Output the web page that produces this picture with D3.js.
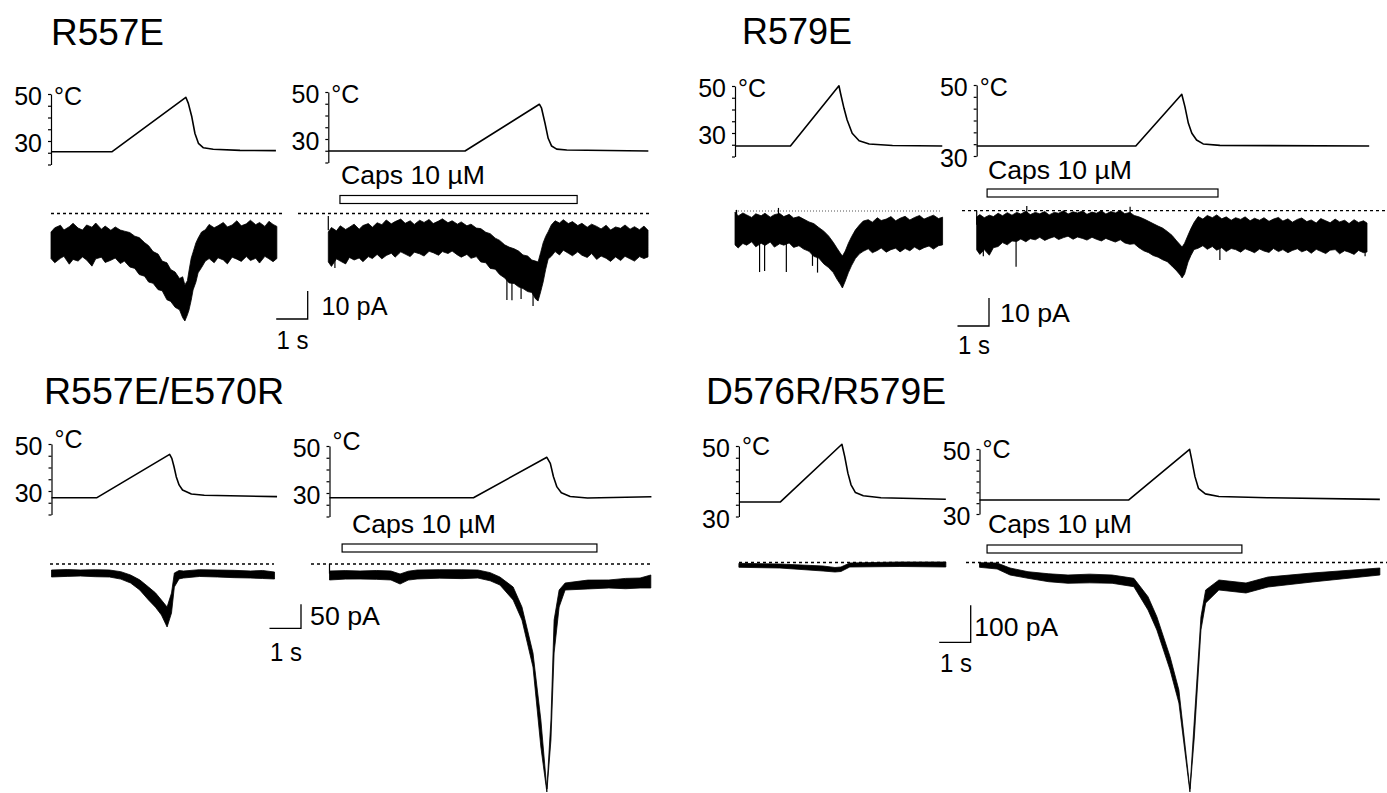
<!DOCTYPE html>
<html>
<head>
<meta charset="utf-8">
<script src="https://cdn.jsdelivr.net/npm/d3@7"></script>
<style>
  body { margin: 0; background: #fff; }
  text { font-family: "Liberation Sans", Arial, Helvetica, sans-serif; fill: #000; }
</style>
</head>
<body>
<div id="chart"></div>
<script>
const svgWidth = 1387;
const svgHeight = 793;

// labels
const titles = ["R557E", "R579E", "R557E/E570R", "D576R/R579E"];
const capsLabel = "Caps 10 µM";
const tempTickLabels = [50, 30];
const scaleBarPA = [10, 10, 50, 100];
const scaleBarSec = 1;
// capsaicin application, seconds from start of 2nd sweep
const capsOn = [[0.37, 7.9], [0.33, 7.66], [0.4, 8.49], [0.24, 8.33]];

// temperature traces [s, °C]
const tempA1 = [[0,25.4],[1.93,25.4],[4.28,48.6],[4.36,46.0],[4.47,40.3],[4.57,33.2],[4.68,29.0],[4.84,27.1],[5.15,26.5],[6.0,26.0],[7.14,25.9]];
const tempA2 = [[0,24.9],[4.34,24.9],[6.7,44.8],[6.77,43.1],[6.88,36.7],[6.98,30.3],[7.09,27.0],[7.25,25.7],[7.57,25.3],[10.16,24.9]];
const tempB1 = [[0,24.5],[1.76,24.5],[3.3,50.1],[3.35,46.9],[3.46,40.5],[3.56,35.5],[3.72,29.9],[3.94,26.7],[4.26,25.3],[5.0,24.7],[6.58,24.5]];
const tempB2 = [[0,32.8],[5.05,32.8],[6.51,47.4],[6.61,43.9],[6.72,39.2],[6.83,36.4],[6.98,34.5],[7.19,33.4],[7.72,33.0],[12.46,32.8]];
const tempC1 = [[0,27.1],[1.43,27.1],[3.75,45.6],[3.82,43.9],[3.89,40.3],[3.96,36.1],[4.05,32.6],[4.16,30.4],[4.44,28.7],[4.85,28.2],[7.16,27.6]];
const tempC2 = [[0,28.0],[4.57,28.0],[6.9,45.2],[7.01,42.6],[7.11,36.9],[7.22,32.6],[7.36,30.1],[7.64,28.5],[8.19,27.9],[10.22,28.4]];
const tempD1 = [[0,34.1],[1.31,34.1],[3.27,50.5],[3.36,47.0],[3.46,42.3],[3.56,39.0],[3.7,36.8],[3.95,35.9],[4.51,35.3],[6.57,34.9]];
const tempD2 = [[0,34.3],[4.73,34.3],[6.67,49.9],[6.74,46.6],[6.84,41.5],[6.95,37.9],[7.17,36.2],[7.6,35.4],[9.14,35.0],[12.71,34.5]];

// current traces, noise envelope [s, upper pA, lower pA]
const currA1 = [[0,-6.6,-16.1],[0.12,-5.1,-17.6],[0.3,-4.2,-16.0],[0.41,-5.9,-15.3],[0.58,-4.7,-18.1],[0.7,-3.5,-16.4],[0.86,-5.2,-17.0],[1.0,-5.9,-15.5],[1.13,-4.1,-16.6],[1.3,-4.9,-18.8],[1.42,-3.4,-16.2],[1.6,-5.6,-15.6],[1.72,-4.5,-17.5],[1.9,-6.0,-16.7],[2.04,-4.8,-15.9],[2.2,-5.9,-17.9],[2.33,-6.3,-17.0],[2.5,-6.8,-19.1],[2.66,-8.1,-19.6],[2.8,-8.6,-21.8],[2.97,-10.4,-22.4],[3.1,-11.5,-24.5],[3.24,-13.6,-24.9],[3.4,-14.5,-27.2],[3.53,-17.0,-27.6],[3.68,-17.6,-30.8],[3.8,-20.0,-31.4],[3.94,-20.9,-33.5],[4.08,-23.2,-34.4],[4.18,-22.6,-37.2],[4.25,-25.5,-38.4],[4.33,-24.0,-36.2],[4.38,-20.5,-34.5],[4.45,-16.0,-31.0],[4.51,-13.8,-27.3],[4.6,-10.5,-24.5],[4.67,-8.8,-21.2],[4.78,-6.6,-19.3],[4.9,-5.8,-17.0],[5.02,-3.9,-16.1],[5.18,-5.1,-17.6],[5.3,-4.4,-15.8],[5.47,-3.2,-16.6],[5.6,-4.8,-18.0],[5.75,-4.1,-15.6],[5.9,-2.6,-16.3],[6.04,-4.4,-17.1],[6.2,-3.7,-15.4],[6.33,-2.4,-16.8],[6.5,-4.0,-16.0],[6.62,-3.2,-17.7],[6.79,-4.6,-15.3],[6.92,-2.8,-16.2],[7.05,-3.9,-17.2],[7.17,-4.6,-16.1]];
const currA2 = [[0,-6.6,-17.3],[0.1,-5.0,-18.9],[0.26,-6.2,-16.2],[0.38,-4.4,-17.0],[0.55,-5.7,-18.0],[0.67,-4.9,-15.7],[0.82,-3.8,-16.6],[0.98,-5.6,-15.9],[1.1,-4.3,-17.2],[1.27,-3.6,-15.4],[1.4,-4.9,-16.1],[1.55,-3.3,-14.6],[1.7,-4.0,-16.2],[1.84,-2.3,-15.0],[2.0,-3.7,-14.2],[2.12,-2.9,-15.6],[2.3,-2.0,-13.7],[2.44,-3.5,-14.5],[2.6,-2.6,-15.4],[2.73,-3.9,-13.8],[2.9,-2.4,-14.4],[3.04,-3.2,-15.2],[3.2,-2.1,-13.5],[3.33,-3.6,-14.0],[3.5,-2.7,-14.9],[3.62,-1.9,-13.6],[3.8,-3.3,-14.3],[3.93,-2.6,-13.4],[4.1,-3.8,-14.8],[4.22,-3.0,-15.6],[4.4,-4.4,-14.6],[4.53,-3.8,-16.0],[4.7,-5.2,-15.4],[4.84,-5.4,-17.3],[5.0,-6.7,-17.6],[5.14,-7.2,-19.6],[5.3,-8.8,-19.9],[5.44,-9.6,-21.8],[5.6,-11.2,-23.0],[5.74,-12.0,-24.8],[5.9,-12.6,-25.0],[6.04,-13.4,-26.2],[6.18,-14.8,-26.8],[6.33,-15.2,-27.9],[6.46,-16.6,-28.2],[6.58,-17.0,-30.5],[6.66,-17.3,-31.25],[6.74,-14.0,-28.0],[6.82,-10.5,-24.5],[6.9,-8.2,-20.0],[6.98,-6.5,-16.25],[7.08,-4.1,-15.3],[7.2,-2.6,-13.6],[7.34,-3.4,-14.8],[7.46,-2.2,-13.1],[7.62,-3.6,-14.2],[7.75,-2.9,-15.1],[7.92,-4.3,-13.7],[8.05,-3.5,-14.9],[8.22,-4.9,-15.7],[8.36,-3.8,-14.3],[8.52,-4.6,-16.4],[8.66,-5.5,-15.2],[8.82,-4.2,-16.0],[8.96,-5.9,-17.1],[9.12,-4.8,-15.5],[9.28,-5.3,-16.8],[9.42,-4.1,-15.3],[9.58,-5.6,-16.2],[9.72,-4.7,-17.0],[9.88,-5.8,-15.4],[10.02,-4.5,-16.1],[10.15,-6.0,-15.5]];
const currB1 = [[0,-0.36,-12.1],[0.1,-1.8,-13.2],[0.25,-0.7,-11.6],[0.37,-1.4,-12.2],[0.53,-2.3,-11.0],[0.66,-1.0,-12.8],[0.83,-1.7,-11.5],[0.95,-0.8,-12.3],[1.12,-2.2,-11.1],[1.25,-1.3,-12.9],[1.42,-0.9,-11.7],[1.55,-2.0,-12.2],[1.72,-1.2,-11.4],[1.86,-2.5,-13.0],[2.03,-2.0,-12.4],[2.18,-2.9,-13.6],[2.35,-3.9,-14.4],[2.5,-4.5,-16.2],[2.66,-5.9,-16.8],[2.82,-7.2,-18.9],[2.97,-8.9,-20.2],[3.12,-11.2,-22.0],[3.24,-13.3,-24.4],[3.34,-15.0,-26.1],[3.41,-16.1,-27.5],[3.5,-14.3,-25.0],[3.6,-11.5,-22.0],[3.7,-9.2,-19.5],[3.82,-6.8,-17.0],[3.95,-5.0,-15.3],[4.07,-3.6,-14.4],[4.23,-3.1,-13.5],[4.36,-4.0,-14.9],[4.52,-2.4,-14.1],[4.64,-3.4,-13.2],[4.8,-2.9,-14.7],[4.95,-2.0,-13.8],[5.1,-3.5,-13.3],[5.24,-2.6,-14.6],[5.4,-1.9,-13.4],[5.55,-3.2,-14.2],[5.7,-2.3,-12.9],[5.86,-1.6,-13.9],[6.0,-2.9,-13.1],[6.16,-2.1,-12.5],[6.3,-1.5,-13.6],[6.46,-2.7,-12.4],[6.59,-2.2,-12.1]];
const currB2 = [[0,-2.25,-14.0],[0.1,-1.4,-15.6],[0.24,-2.5,-13.9],[0.4,-1.6,-15.9],[0.53,-2.1,-13.2],[0.68,-0.9,-12.8],[0.82,-1.8,-11.4],[0.97,-0.7,-12.2],[1.12,-1.6,-10.8],[1.27,-0.6,-11.0],[1.4,-1.2,-10.1],[1.56,-0.2,-11.1],[1.7,-1.4,-10.0],[1.86,-0.6,-10.4],[2.0,-1.1,-9.5],[2.16,-0.3,-10.6],[2.3,-1.5,-9.9],[2.46,-0.6,-9.3],[2.6,-0.9,-10.3],[2.76,0.0,-9.6],[2.9,-1.2,-9.1],[3.06,-0.4,-10.2],[3.2,-0.8,-9.4],[3.36,-0.1,-9.9],[3.5,-1.3,-10.5],[3.66,-0.5,-9.5],[3.8,-0.9,-10.2],[3.96,0.0,-10.8],[4.1,-1.2,-9.9],[4.26,-0.3,-10.6],[4.4,-0.8,-11.2],[4.56,0.1,-10.4],[4.7,-1.1,-11.5],[4.86,-0.6,-12.0],[5.0,-1.7,-11.8],[5.15,-2.2,-13.2],[5.3,-2.9,-14.3],[5.46,-3.8,-15.0],[5.6,-4.6,-16.0],[5.76,-5.5,-16.6],[5.9,-6.2,-17.5],[6.05,-7.4,-18.2],[6.2,-8.8,-19.8],[6.35,-10.8,-21.5],[6.46,-12.2,-23.0],[6.52,-13.0,-24.0],[6.6,-11.6,-22.6],[6.71,-8.7,-18.3],[6.8,-6.4,-16.0],[6.9,-4.2,-13.9],[7.03,-2.1,-13.4],[7.18,-3.0,-12.5],[7.32,-1.7,-13.8],[7.48,-2.5,-12.8],[7.62,-1.5,-14.1],[7.78,-2.9,-13.2],[7.92,-2.2,-14.6],[8.08,-3.4,-13.5],[8.22,-2.5,-13.9],[8.38,-3.1,-14.8],[8.52,-2.2,-13.6],[8.68,-3.6,-14.3],[8.82,-2.7,-15.0],[8.98,-3.4,-13.7],[9.12,-2.5,-14.4],[9.28,-3.8,-14.9],[9.42,-3.0,-13.5],[9.58,-2.4,-14.6],[9.72,-3.7,-13.9],[9.88,-2.9,-15.0],[10.02,-4.1,-14.2],[10.18,-3.1,-13.6],[10.32,-2.6,-14.7],[10.48,-3.9,-14.0],[10.62,-3.3,-15.2],[10.78,-4.4,-13.8],[10.92,-2.8,-14.5],[11.08,-3.6,-15.3],[11.22,-4.3,-14.1],[11.38,-3.0,-13.9],[11.52,-4.0,-15.4],[11.68,-3.4,-14.3],[11.82,-4.6,-14.8],[11.98,-3.2,-15.6],[12.12,-4.2,-14.2],[12.28,-3.6,-15.0],[12.39,-4.4,-14.75]];
const currC1 = [[0,-12.5,-27.1],[0.5,-11.5,-25.8],[0.92,-12.5,-25.0],[1.4,-11.8,-26.5],[1.84,-12.5,-27.1],[2.2,-16.0,-31.5],[2.51,-22.9,-39.6],[2.8,-33.0,-54.0],[3.08,-47.9,-75.0],[3.3,-60.0,-90.0],[3.49,-75.0,-106.3],[3.67,-89.6,-131.3],[3.81,-60.4,-102.1],[3.9,-18.75,-47.9],[4.05,-13.5,-31.0],[4.19,-14.6,-29.2],[4.7,-11.8,-26.0],[5.27,-12.5,-27.1],[5.8,-13.2,-28.5],[6.32,-14.6,-29.2],[6.7,-13.5,-30.2],[7.08,-16.7,-31.25]];
const currC2 = [[0,-14.6,-33.3],[0.5,-13.8,-31.5],[0.97,-14.6,-31.25],[1.5,-13.5,-32.0],[1.95,-14.6,-33.3],[2.24,-20.8,-41.7],[2.5,-15.0,-33.5],[2.78,-12.5,-31.25],[3.5,-11.8,-29.5],[4.2,-12.0,-30.5],[4.71,-12.5,-29.2],[5.1,-18.0,-35.0],[5.41,-27.1,-43.75],[5.83,-47.9,-75.0],[6.11,-89.6,-116.7],[6.46,-185.4,-214.6],[6.71,-325,-381.25],[6.9,-468.75,-475],[7.03,-325,-366.7],[7.13,-116.7,-185.4],[7.29,-54.2,-89.6],[7.48,-39.6,-54.2],[8.2,-33.5,-52.0],[8.87,-33.3,-50.0],[9.4,-30.0,-51.5],[9.86,-29.2,-50.0],[10.2,-22.9,-50.0]];
const currD1 = [[0,-2.2,-13.0],[1.3,-4.1,-14.9],[2.67,-9.5,-23.0],[3.05,-13.5,-25.7],[3.24,-12.2,-24.3],[3.52,-1.35,-12.2],[5.11,1.35,-10.8],[6.57,1.35,-12.2]];
const currD2 = [[0,-0.5,-13.0],[0.56,-1.35,-17.6],[0.97,-14.9,-33.8],[1.54,-24.9,-42.7],[2.2,-30.5,-52.0],[2.81,-33.8,-56.2],[3.5,-31.5,-55.0],[4.21,-33.8,-56.2],[4.9,-42.7,-65.4],[5.35,-92.4,-128.4],[5.63,-146.5,-182.4],[6.05,-254.6,-290.5],[6.33,-344.6,-379.7],[6.68,-612,-620],[6.82,-425.7,-471.6],[7.03,-146.5,-182.4],[7.18,-74.3,-109.5],[7.6,-47.3,-74.3],[8.46,-55.4,-82.4],[9.16,-39.2,-66.2],[10.56,-28.4,-52.7],[12.71,-14.9,-33.8]];

// single large events [s, from pA, to pA]
const spikesA2 = [[0,-6,-0.9],[0.21,-14,-19.5],[5.67,-20,-30.9],[5.83,-20,-31.0],[6.12,-22,-30.5],[6.5,-25,-33.0],[7.45,-6,-2.9]];
const spikesB1 = [[0.05,-5,0.4],[0.78,-10,-21.8],[0.94,-10,-21.4],[1.38,-5,1.1],[1.63,-10,-21.8],[2.46,-12,-19.6],[2.62,-14,-22.0]];
const spikesB2 = [[0,-5,0],[0.21,-10,-16.3],[1.25,-9,-20.0],[1.59,-5,1.7],[4.87,-5,1.4],[7.72,-10,-17.6],[12.33,-10,-16.3]];
const spikesC2 = [[0,-20,0]];

// layout
const pxPerSec = 31.5;

const subpanels = [
  {temp: tempA1, curr: currA1, spikes: [], x0: 51, lo: 20, hi: 50, nTicks: 6, yLo: 164.5, yHi: 94, degDy: 0, y0: 213.5, pxPerPA: 2.8, dots: [51, 282], dash: "3,3"},
  {temp: tempA2, curr: currA2, spikes: spikesA2, x0: 328.3, lo: 20, hi: 50, nTicks: 6, yLo: 162.5, yHi: 92, degDy: 0, y0: 213.5, pxPerPA: 2.8, dots: [298, 650], dash: "3,3"},
  {temp: tempB1, curr: currB1, spikes: spikesB1, x0: 735, lo: 20, hi: 50, nTicks: 6, yLo: 156.5, yHi: 86, degDy: 0, y0: 211, pxPerPA: 2.8, dots: [735, 942], dash: "1,2", thin: true},
  {temp: tempB2, curr: currB2, spikes: spikesB2, x0: 976.7, lo: 30, hi: 50, nTicks: 6, yLo: 156, yHi: 85, degDy: 0, y0: 210.7, pxPerPA: 2.8, dots: [962, 1387], dash: "3,3"},
  {temp: tempC1, curr: currC1, spikes: [], x0: 51.5, lo: 20, hi: 50, nTicks: 6, yLo: 514.5, yHi: 444, degDy: -7, y0: 564, pxPerPA: 0.48, dots: [50, 274], dash: "3,3"},
  {temp: tempC2, curr: currC2, spikes: spikesC2, x0: 329.5, lo: 20, hi: 50, nTicks: 6, yLo: 516.5, yHi: 446, degDy: -7, y0: 564, pxPerPA: 0.48, dots: [311, 651], dash: "3,3"},
  {temp: tempD1, curr: currD1, spikes: [], x0: 738.9, lo: 30, hi: 50, nTicks: 6, yLo: 516.5, yHi: 446, degDy: -2, y0: 562.5, pxPerPA: 0.37, dots: [739, 946], dash: "3,3"},
  {temp: tempD2, curr: currD2, spikes: [], x0: 979.5, lo: 30, hi: 50, nTicks: 6, yLo: 514, yHi: 449, degDy: -2, y0: 562.5, pxPerPA: 0.37, dots: [966, 1387], dash: "3,3"}
];

const panelLayout = [
  {tx: 51, ty: 45, tw: 113, capsY: 195.5, capsTx: 341, capsTy: 184, cx: 307.7, cy: 319, labX: 321.5, labY: 315, labW: 66, secX: 276.5, secY: 349},
  {tx: 742, ty: 44, tw: 110, capsY: 189, capsTx: 988, capsTy: 179, cx: 989, cy: 326, labX: 1000, labY: 321.5, labW: 70, secX: 958, secY: 354},
  {tx: 44, ty: 404, tw: 240, capsY: 544, capsTx: 352, capsTy: 533, cx: 301, cy: 628.3, labX: 310, labY: 625, labW: 70, secX: 270, secY: 661},
  {tx: 706, ty: 404, tw: 240, capsY: 545, capsTx: 988, capsTy: 533, cx: 970.7, cy: 642.3, labX: 974.3, labY: 636, labW: 84, secX: 940, secY: 672}
];

const svg = d3.select("#chart")
  .append("svg")
  .attr("width", svgWidth)
  .attr("height", svgHeight);

// scales per sweep
subpanels.forEach(sp => {
  sp.x = d3.scaleLinear().domain([0, 1]).range([sp.x0, sp.x0 + pxPerSec]);
  sp.yT = d3.scaleLinear().domain([sp.lo, sp.hi]).range([sp.yLo, sp.yHi]);
  sp.yI = d3.scaleLinear().domain([0, 1]).range([sp.y0, sp.y0 - sp.pxPerPA]);
});

subpanels.forEach(sp => {
  const g = svg.append("g");

  // temperature axis
  const ticks = d3.range(sp.nTicks + 1).map(i => sp.lo + i * (sp.hi - sp.lo) / sp.nTicks);
  const axis = d3.axisLeft(sp.yT).tickValues(ticks).tickSize(3).tickSizeOuter(0).tickFormat("");
  const ag = g.append("g")
    .attr("transform", `translate(${sp.x0}, 0)`)
    .call(axis);
  ag.selectAll("path, line").attr("stroke", "#000").attr("stroke-width", 1.2);

  g.selectAll(".tlab")
    .data(tempTickLabels)
    .enter()
    .append("text")
    .attr("x", sp.x0 - 9)
    .attr("y", d => sp.yT(d) + 11)
    .attr("text-anchor", "end")
    .attr("font-size", 25)
    .text(d => d);

  g.append("text")
    .attr("x", sp.x0 + 3)
    .attr("y", sp.yT(50) + 11 + sp.degDy)
    .attr("font-size", 25)
    .text("°C");

  // temperature trace
  g.append("path")
    .datum(sp.temp)
    .attr("fill", "none")
    .attr("stroke", "#000")
    .attr("stroke-width", 1.6)
    .attr("stroke-linejoin", "round")
    .attr("d", d3.line().x(d => sp.x(d[0])).y(d => sp.yT(d[1])));

  // zero current line
  g.append("line")
    .attr("x1", sp.dots[0]).attr("x2", sp.dots[1])
    .attr("y1", sp.yI(0)).attr("y2", sp.yI(0))
    .attr("stroke", sp.thin ? "#555" : "#000")
    .attr("stroke-width", sp.thin ? 1 : 1.3)
    .attr("stroke-dasharray", sp.dash);

  // current trace
  g.append("path")
    .datum(sp.curr)
    .attr("fill", "#000")
    .attr("stroke", "#000")
    .attr("stroke-width", 0.8)
    .attr("stroke-linejoin", "round")
    .attr("d", d3.area()
      .x(d => sp.x(d[0]))
      .y0(d => sp.yI(d[1]))
      .y1(d => sp.yI(d[2])));

  g.selectAll(".spike")
    .data(sp.spikes)
    .enter()
    .append("line")
    .attr("x1", d => sp.x(d[0])).attr("x2", d => sp.x(d[0]))
    .attr("y1", d => sp.yI(d[1])).attr("y2", d => sp.yI(d[2]))
    .attr("stroke", "#000")
    .attr("stroke-width", 1.2);
});

panelLayout.forEach((p, i) => {
  const sweep2 = subpanels[i * 2 + 1];
  const g = svg.append("g");

  g.append("text")
    .attr("x", p.tx)
    .attr("y", p.ty)
    .attr("font-size", 36)
    .attr("textLength", p.tw)
    .attr("lengthAdjust", "spacingAndGlyphs")
    .text(titles[i]);

  // capsaicin bar
  g.append("rect")
    .attr("x", sweep2.x(capsOn[i][0]))
    .attr("y", p.capsY)
    .attr("width", sweep2.x(capsOn[i][1]) - sweep2.x(capsOn[i][0]))
    .attr("height", 8)
    .attr("fill", "#fff")
    .attr("stroke", "#000")
    .attr("stroke-width", 1.2);

  g.append("text")
    .attr("x", p.capsTx)
    .attr("y", p.capsTy)
    .attr("font-size", 25)
    .attr("textLength", 144)
    .attr("lengthAdjust", "spacingAndGlyphs")
    .text(capsLabel);

  // scale bar
  const w = sweep2.x(scaleBarSec) - sweep2.x(0);
  const h = sweep2.yI(0) - sweep2.yI(scaleBarPA[i]);
  g.append("path")
    .attr("d", `M${p.cx - w},${p.cy}H${p.cx}V${p.cy - h}`)
    .attr("fill", "none")
    .attr("stroke", "#000")
    .attr("stroke-width", 1.3);

  g.append("text")
    .attr("x", p.labX)
    .attr("y", p.labY)
    .attr("font-size", 25)
    .attr("textLength", p.labW)
    .attr("lengthAdjust", "spacingAndGlyphs")
    .text(`${scaleBarPA[i]} pA`);

  g.append("text")
    .attr("x", p.secX)
    .attr("y", p.secY)
    .attr("font-size", 25)
    .attr("textLength", 32)
    .attr("lengthAdjust", "spacingAndGlyphs")
    .text(`${scaleBarSec} s`);
});
</script>
</body>
</html>
